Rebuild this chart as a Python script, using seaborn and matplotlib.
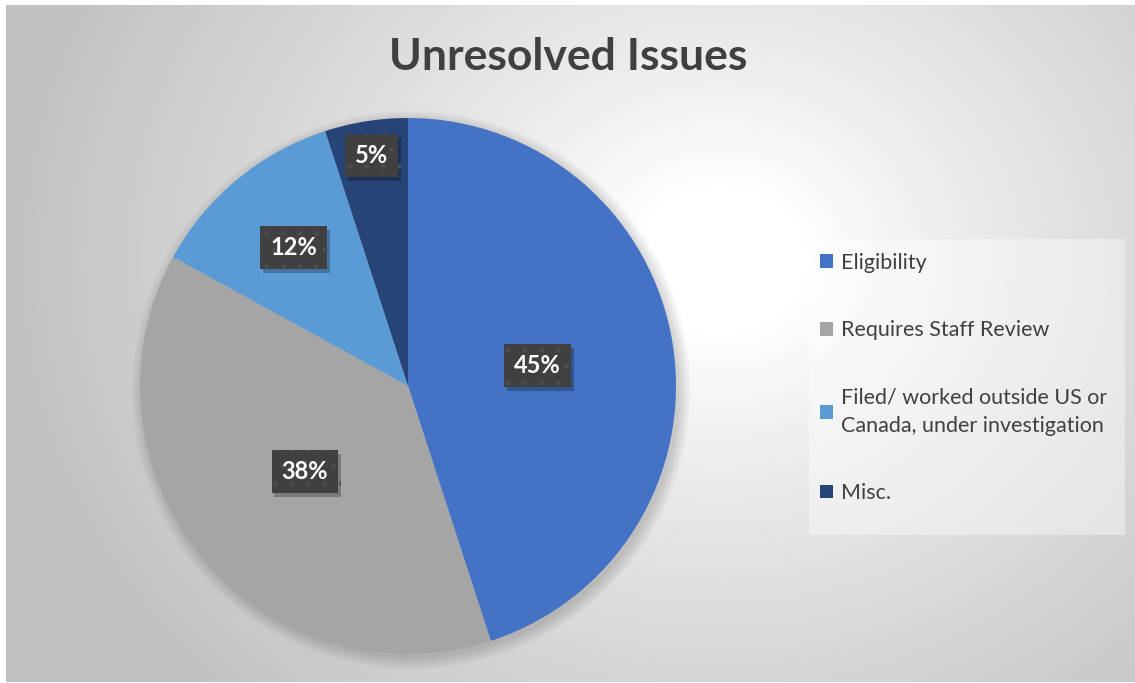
import matplotlib
matplotlib.use("Agg")
import matplotlib.pyplot as plt
import matplotlib.patheffects as pe
from matplotlib.patches import Patch, Rectangle, Circle
import numpy as np
import seaborn as sns

categories = [
    "Eligibility",
    "Requires Staff Review",
    "Filed/ worked outside US or\nCanada, under investigation",
    "Misc.",
]
shares = [45, 38, 12, 5]
colors = ["#4472C4", "#A5A5A5", "#5B9BD5", "#264478"]
label_radius = [0.49, 0.50, 0.67, 0.87]

W, H = 1135, 683

sns.set_theme(style="white")
plt.rcParams["font.family"] = ["Lato", "DejaVu Sans"]
plt.rcParams["hatch.linewidth"] = 1.2

fig = plt.figure(figsize=(W / 100, H / 100), dpi=100)
fig.patch.set_facecolor("white")

# radial grey gradient background of the chart area
x0, y0, x1, y1 = 6, 5, 1135, 682
bg = fig.add_axes([x0 / W, 1 - y1 / H, (x1 - x0) / W, (y1 - y0) / H], zorder=0)
xx, yy = np.meshgrid(np.arange(x0, x1), np.arange(y0, y1))
dist = np.hypot(xx - 720, (yy - 260) * 1.15) / 720
shade = np.clip(1.0 - 0.27 * np.clip(dist - 0.12, 0, None) ** 0.85, 0.76, 1.0)
bg.imshow(np.dstack([shade] * 3), aspect="auto", interpolation="bilinear")
bg.set_axis_off()

# pie axes, centred at (408, 386) px with radius 270 px (limits give some room)
cx, cy, r = 408, 386, 268
lim = 1.06
R = r * lim
ax = fig.add_axes([(cx - R) / W, 1 - (cy + R) / H, 2 * R / W, 2 * R / H], zorder=1)
ax.set_facecolor("none")

# soft shadow under the pie
for k in range(8):
    ax.add_patch(Circle((0.012, -0.015), 1.0 + 0.006 * k, color="black",
                        alpha=0.02, lw=0, zorder=0.5))

wedges, texts, autotexts = ax.pie(
    shares,
    colors=colors,
    startangle=90,
    counterclock=False,
    autopct="%d%%",
    radius=1.0,
    wedgeprops=dict(linewidth=0),
    textprops=dict(color="white", fontsize=17, fontweight="bold"),
)
for w, t, rr in zip(wedges, autotexts, label_radius):
    mid = np.deg2rad((w.theta1 + w.theta2) / 2)
    t.set_position((rr * np.cos(mid), rr * np.sin(mid)))
    t.set_bbox(dict(boxstyle="square,pad=0.42", facecolor="#404040",
                    edgecolor="#4c4c4c", hatch=".", linewidth=0))
    t.get_bbox_patch().set_path_effects(
        [pe.SimplePatchShadow(offset=(2, -3), shadow_rgbFace="black", alpha=0.25), pe.Normal()]
    )
ax.set_xlim(-lim, lim)
ax.set_ylim(-lim, lim)
ax.set_aspect("equal")
ax.set_axis_off()

fig.text(0.5 * (x0 + x1) / W - 0.002, 1 - 57 / H, "Unresolved Issues", ha="center", va="center",
         fontsize=32, fontweight="bold", color="#404040", zorder=3)

# legend box
fig.patches.append(Rectangle((809 / W, 1 - 535 / H), (1125 - 809) / W, (535 - 239) / H,
                             transform=fig.transFigure, facecolor="white", alpha=0.4,
                             lw=0, zorder=2))
handles = [Patch(facecolor=c, edgecolor="none") for c in colors]
leg = fig.legend(
    handles, categories,
    loc="upper left",
    bbox_to_anchor=(820 / W, 1 - 253 / H),
    frameon=False,
    fontsize=15.5,
    handlelength=0.62,
    handleheight=0.62,
    handletextpad=0.35,
    labelspacing=2.2,
    borderpad=0,
    borderaxespad=0,
)
for txt in leg.get_texts():
    txt.set_color("#404040")
    txt.set_linespacing(1.5)
leg.set_zorder(3)

fig.savefig("out.png", dpi=100, facecolor=fig.get_facecolor())
